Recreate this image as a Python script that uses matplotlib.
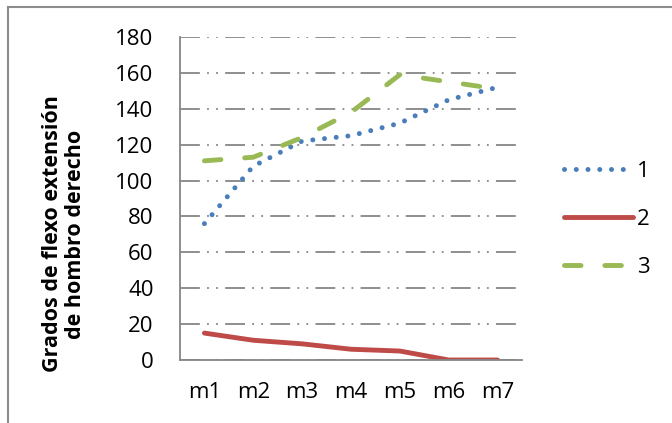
import matplotlib
matplotlib.use("Agg")
import matplotlib.pyplot as plt
from matplotlib.lines import Line2D

categories = ["m1", "m2", "m3", "m4", "m5", "m6", "m7"]
serie_1 = [76, 108, 122, 125, 132, 145, 152]
serie_2 = [15, 11, 9, 6, 5, 0, 0]
serie_3 = [111, 113, 124, 138, 159, 155, 151]
series_labels = ["1", "2", "3"]
y_ticks = [0, 20, 40, 60, 80, 100, 120, 140, 160, 180]
y_label = "Grados de flexo extensión\nde hombro derecho"

plt.rcParams['font.family'] = ['Open Sans', 'DejaVu Sans']

fig = plt.figure(figsize=(6.72, 4.23), dpi=100)
ax = fig.add_axes([180/672, 1-360/423, 342/672, 323/423])

x = list(range(len(categories)))
blue = "#4a7ebb"
red = "#be4b48"
green = "#98b954"

l1, = ax.plot(x, serie_1, color=blue, lw=3.6, linestyle=(0, (0.001, 2.35)),
              dash_capstyle='round', solid_capstyle='round')
l2, = ax.plot(x, serie_2, color=red, lw=3.5, solid_capstyle='round',
              solid_joinstyle='round')
l3, = ax.plot(x, serie_3, color=green, lw=3.5, linestyle=(0, (3.4, 4.9)),
              dash_capstyle='round')

ax.set_xlim(-0.5, len(categories) - 0.5)
ax.set_ylim(0, 180)
ax.set_yticks(y_ticks)
ax.set_xticks(x)
ax.set_xticklabels(categories)
ax.tick_params(axis='both', length=0, labelsize=16, colors='black')
ax.tick_params(axis='y', pad=19)
ax.tick_params(axis='x', pad=16)

ax.yaxis.grid(True, color="#868686", lw=1.3, linestyle=(0, (11, 4, 1, 4, 1, 4)))
ax.set_axisbelow(True)
for s in ['top', 'right']:
    ax.spines[s].set_visible(False)
for s in ['left', 'bottom']:
    ax.spines[s].set_color("#868686")
    ax.spines[s].set_linewidth(1.3)

fig.text(64/672, 1-234/423, y_label, rotation=90, ha='center', va='center',
         fontsize=15.5, fontweight='bold', linespacing=1.15)

leg = fig.legend([l1, l2, l3], series_labels, loc='upper left',
                 bbox_to_anchor=(544/672, 1-141/423), frameon=False,
                 fontsize=16, handlelength=3.1, labelspacing=1.22,
                 handletextpad=0.2)

# outer border (left and top visible)
fig.add_artist(Line2D([7.5/672, 7.5/672], [0, 1-7.5/423], color="#8c8c8c", lw=1.5,
                      transform=fig.transFigure))
fig.add_artist(Line2D([7.5/672, 1], [1-7.5/423, 1-7.5/423], color="#8c8c8c", lw=1.5,
                      transform=fig.transFigure))

fig.savefig("out.png", dpi=100)
